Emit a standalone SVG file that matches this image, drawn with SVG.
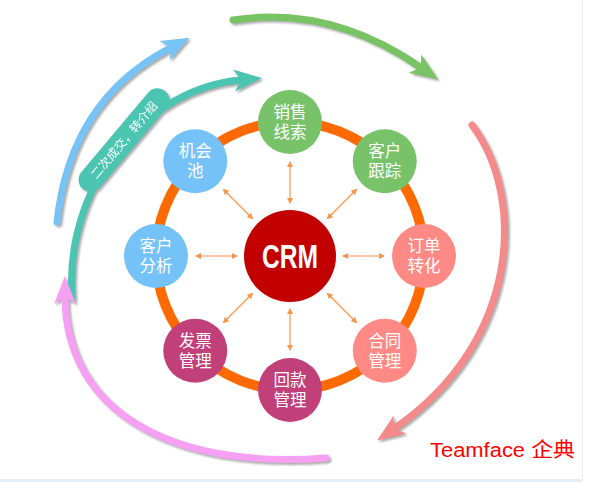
<svg xmlns="http://www.w3.org/2000/svg" width="589" height="482" viewBox="0 0 589 482">
<style>
.arc{fill:none;stroke-width:7;stroke-linecap:round}
.node text{font-family:"Noto Sans CJK SC","Noto Sans",sans-serif;font-size:16.5px;fill:#fff;text-anchor:middle}
.link{stroke:#F7964A;stroke-width:1.2;marker-start:url(#sm);marker-end:url(#sm)}
</style>
<defs>
<filter id="sh" x="-10%" y="-10%" width="130%" height="130%">
<feDropShadow dx="2" dy="2" stdDeviation="1" flood-color="#888" flood-opacity="0.7"/>
</filter>
<marker id="sm" viewBox="0 0 6 6" refX="5" refY="3" markerWidth="6" markerHeight="6" markerUnits="userSpaceOnUse" orient="auto-start-reverse">
<path d="M0,0 L6,3 L0,6 Z" fill="#F7964A"/>
</marker>
<marker id="aBlue" viewBox="0 -12 28 24" refX="6" refY="0" markerWidth="28" markerHeight="24" markerUnits="userSpaceOnUse" orient="auto"><path d="M28,0 L0,-11 L7,0 L0,11 Z" fill="#78C3F5"/></marker>
<marker id="aTeal" viewBox="0 -12 28 24" refX="6" refY="0" markerWidth="28" markerHeight="24" markerUnits="userSpaceOnUse" orient="auto"><path d="M28,0 L0,-11 L7,0 L0,11 Z" fill="#4BC4B2"/></marker>
<marker id="aGreen" viewBox="0 -12 28 24" refX="6" refY="0" markerWidth="28" markerHeight="24" markerUnits="userSpaceOnUse" orient="auto"><path d="M28,0 L0,-11 L7,0 L0,11 Z" fill="#78C363"/></marker>
<marker id="aPink" viewBox="0 -12 28 24" refX="6" refY="0" markerWidth="28" markerHeight="24" markerUnits="userSpaceOnUse" orient="auto"><path d="M28,0 L0,-11 L7,0 L0,11 Z" fill="#F48A8A"/></marker>
<marker id="aViolet" viewBox="0 -12 28 24" refX="6" refY="0" markerWidth="28" markerHeight="24" markerUnits="userSpaceOnUse" orient="auto"><path d="M28,0 L0,-11 L7,0 L0,11 Z" fill="#F5A0F3"/></marker>
</defs>
<rect width="589" height="482" fill="#fff"/>
<rect x="0" y="479" width="582" height="3" fill="#E4EEF9"/>
<line x1="582.5" y1="0" x2="582.5" y2="482" stroke="#ECECEC" stroke-width="1"/>

<g id="cycle" filter="url(#sh)">
<path class="arc" d="M57,222 Q70,100 170,48" stroke="#78C3F5" marker-end="url(#aBlue)"/>
<path class="arc" d="M72,298 C64,180 150,88 240,80" stroke="#4BC4B2" marker-end="url(#aTeal)"/>
<g transform="translate(124,140) rotate(-50)">
<rect x="-64" y="-12" width="128" height="24" rx="12" fill="#4BC4B2"/>
<text x="0" y="4.5" font-family="'Noto Sans CJK SC','Noto Sans',sans-serif" font-size="12" fill="#fff" text-anchor="middle">二次成交，转介绍</text>
</g>
<path class="arc" d="M233,20 Q330,5 420,67" stroke="#78C363" marker-end="url(#aGreen)"/>
<path class="arc" d="M472,125 C525,195 522,340 395,428" stroke="#F48A8A" marker-end="url(#aPink)"/>
<path class="arc" d="M326,458 C170,470 66,410 65,298" stroke="#F5A0F3" marker-end="url(#aViolet)"/>
</g>

<circle cx="290" cy="256" r="134" fill="none" stroke="#FF6A00" stroke-width="10"/>

<g id="connectors">
<line class="link" x1="290" y1="203" x2="290" y2="162"/>
<line class="link" x1="290" y1="309" x2="290" y2="350"/>
<line class="link" x1="343" y1="256" x2="384" y2="256"/>
<line class="link" x1="237" y1="256" x2="196" y2="256"/>
<line class="link" x1="327.5" y1="218.5" x2="356.5" y2="189.5"/>
<line class="link" x1="327.5" y1="293.5" x2="356.5" y2="322.5"/>
<line class="link" x1="252.5" y1="293.5" x2="223.5" y2="322.5"/>
<line class="link" x1="252.5" y1="218.5" x2="223.5" y2="189.5"/>
</g>

<g id="crm">
<circle cx="290" cy="256" r="46" fill="#C30000"/>
<text x="290" y="268" font-family="'Liberation Sans',sans-serif" font-size="34" font-weight="bold" fill="#fff" text-anchor="middle" textLength="56" lengthAdjust="spacingAndGlyphs">CRM</text>
</g>

<g id="n1" class="node"><circle cx="290" cy="122" r="32" fill="#78C26A"/><text x="290" y="118">销售<tspan x="290" dy="19.5">线索</tspan></text></g>
<g id="n2" class="node"><circle cx="384.75" cy="161.25" r="32" fill="#78C26A"/><text x="384.75" y="157">客户<tspan x="384.75" dy="19.5">跟踪</tspan></text></g>
<g id="n3" class="node"><circle cx="424" cy="256" r="32" fill="#FF8A85"/><text x="424" y="252">订单<tspan x="424" dy="19.5">转化</tspan></text></g>
<g id="n4" class="node"><circle cx="384.75" cy="350.75" r="32" fill="#FF8A85"/><text x="384.75" y="347">合同<tspan x="384.75" dy="19.5">管理</tspan></text></g>
<g id="n5" class="node"><circle cx="290" cy="390" r="32" fill="#C2407A"/><text x="290" y="386">回款<tspan x="290" dy="19.5">管理</tspan></text></g>
<g id="n6" class="node"><circle cx="195.25" cy="350.75" r="32" fill="#C2407A"/><text x="195.25" y="347">发票<tspan x="195.25" dy="19.5">管理</tspan></text></g>
<g id="n7" class="node"><circle cx="156" cy="256" r="32" fill="#74C2F8"/><text x="156" y="252">客户<tspan x="156" dy="19.5">分析</tspan></text></g>
<g id="n8" class="node"><circle cx="195.25" cy="161.25" r="32" fill="#74C2F8"/><text x="195.25" y="157">机会<tspan x="195.25" dy="19.5">池</tspan></text></g>

<text x="430" y="457" font-family="'Liberation Sans','Noto Sans CJK SC',sans-serif" font-size="20" fill="#FF0000" textLength="145" lengthAdjust="spacingAndGlyphs">Teamface 企典</text>
</svg>
